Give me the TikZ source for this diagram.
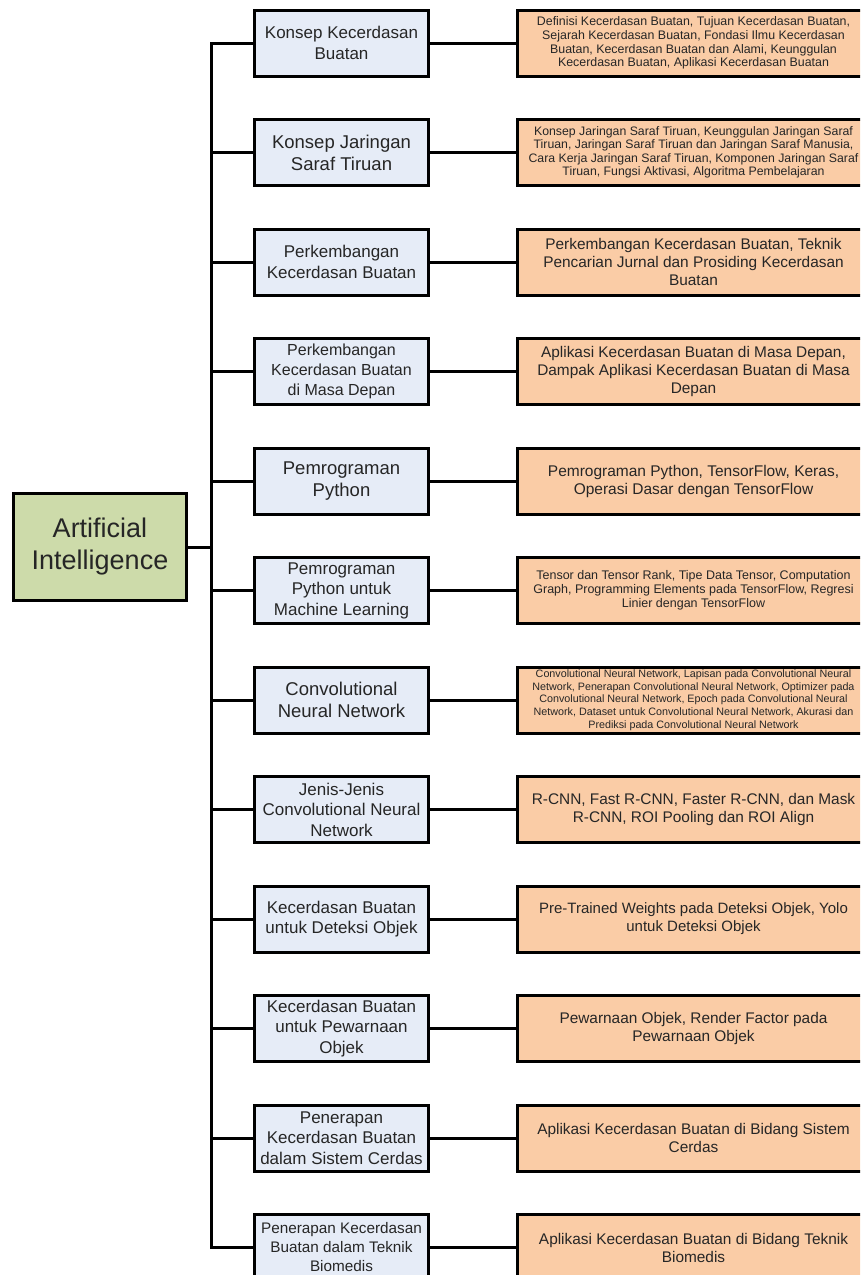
\documentclass[tikz,border=0pt]{standalone}
\usepackage{fontspec}
\setmainfont{Liberation Sans}
\definecolor{midfill}{RGB}{230,236,247}
\definecolor{rightfill}{RGB}{250,204,166}
\definecolor{rootfill}{RGB}{205,219,170}
\definecolor{txt}{RGB}{38,38,38}
\newcommand{\fs}[2]{\fontsize{#1}{#2}\selectfont}
\begin{document}
\begin{tikzpicture}[x=1pt,y=-1pt,
  basebox/.style={draw=black, line width=3pt, text=txt, align=center, inner sep=0pt},
  rootbox/.style={basebox, fill=rootfill, minimum width=173pt, minimum height=107pt},
  midbox/.style={basebox, fill=midfill, minimum width=174pt, minimum height=66pt},
  rightbox/.style={basebox, fill=rightfill, minimum width=352pt, minimum height=66pt},
  conn/.style={draw=black, line width=3pt, line join=miter}]
\clip (0,0) rectangle (860,1275);
\fill[white] (0,0) rectangle (860,1275);

\node[rootbox, font=\fs{27}{32}] (root) at (100,547) {Artificial\\Intelligence};

\node[midbox, font=\fs{17}{20.5}] (m1) at (341.5,43) {Konsep Kecerdasan\\Buatan};
\node[midbox, font=\fs{18.5}{22}] (m2) at (341.5,152.5) {Konsep Jaringan\\Saraf Tiruan};
\node[midbox, font=\fs{17}{20.5}] (m3) at (341.5,262) {Perkembangan\\Kecerdasan Buatan};
\node[midbox, font=\fs{16}{20}] (m4) at (341.5,371.5) {Perkembangan\\Kecerdasan Buatan\\di Masa Depan};
\node[midbox, font=\fs{18.5}{22}] (m5) at (341.5,481) {Pemrograman\\Python};
\node[midbox, font=\fs{17}{20.5}] (m6) at (341.5,590.5) {Pemrograman\\Python untuk\\Machine Learning};
\node[midbox, font=\fs{18.5}{22}] (m7) at (341.5,700) {Convolutional\\Neural Network};
\node[midbox, font=\fs{17}{20.5}] (m8) at (341.5,809.5) {Jenis-Jenis\\Convolutional Neural\\Network};
\node[midbox, font=\fs{17}{20.5}] (m9) at (341.5,919) {Kecerdasan Buatan\\untuk Deteksi Objek};
\node[midbox, font=\fs{17}{20.5}] (m10) at (341.5,1028.5) {Kecerdasan Buatan\\untuk Pewarnaan\\Objek};
\node[midbox, font=\fs{17}{20.5}] (m11) at (341.5,1138) {Penerapan\\Kecerdasan Buatan\\dalam Sistem Cerdas};
\node[midbox, font=\fs{15.3}{19}] (m12) at (341.5,1247.5) {Penerapan Kecerdasan\\Buatan dalam Teknik\\Biomedis};

\node[rightbox, font=\fs{12.4}{13.7}] (r1) at (693.5,43) {Definisi Kecerdasan Buatan, Tujuan Kecerdasan Buatan,\\Sejarah Kecerdasan Buatan, Fondasi Ilmu Kecerdasan\\Buatan, Kecerdasan Buatan dan Alami, Keunggulan\\Kecerdasan Buatan, Aplikasi Kecerdasan Buatan};
\node[rightbox, font=\fs{12.3}{13.4}] (r2) at (693.5,152.5) {Konsep Jaringan Saraf Tiruan, Keunggulan Jaringan Saraf\\Tiruan, Jaringan Saraf Tiruan dan Jaringan Saraf Manusia,\\Cara Kerja Jaringan Saraf Tiruan, Komponen Jaringan Saraf\\Tiruan, Fungsi Aktivasi, Algoritma Pembelajaran};
\node[rightbox, font=\fs{15.4}{18}] (r3) at (693.5,262) {Perkembangan Kecerdasan Buatan, Teknik\\Pencarian Jurnal dan Prosiding Kecerdasan\\Buatan};
\node[rightbox, font=\fs{15.4}{18}] (r4) at (693.5,371.5) {Aplikasi Kecerdasan Buatan di Masa Depan,\\Dampak Aplikasi Kecerdasan Buatan di Masa\\Depan};
\node[rightbox, font=\fs{15.5}{18}] (r5) at (693.5,481) {Pemrograman Python, TensorFlow, Keras,\\Operasi Dasar dengan TensorFlow};
\node[rightbox, font=\fs{12.5}{14.2}] (r6) at (693.5,590.5) {Tensor dan Tensor Rank, Tipe Data Tensor, Computation\\Graph, Programming Elements pada TensorFlow, Regresi\\Linier dengan TensorFlow};
\node[rightbox, font=\fs{10.75}{12.75}] (r7) at (693.5,700) {Convolutional Neural Network, Lapisan pada Convolutional Neural\\Network, Penerapan Convolutional Neural Network, Optimizer pada\\Convolutional Neural Network, Epoch pada Convolutional Neural\\Network, Dataset untuk Convolutional Neural Network, Akurasi dan\\Prediksi pada Convolutional Neural Network};
\node[rightbox, font=\fs{15.4}{18}] (r8) at (693.5,809.5) {R-CNN, Fast R-CNN, Faster R-CNN, dan Mask\\R-CNN, ROI Pooling dan ROI Align};
\node[rightbox, font=\fs{15}{18}] (r9) at (693.5,919) {Pre-Trained Weights pada Deteksi Objek, Yolo\\untuk Deteksi Objek};
\node[rightbox, font=\fs{15.4}{18}] (r10) at (693.5,1028.5) {Pewarnaan Objek, Render Factor pada\\Pewarnaan Objek};
\node[rightbox, font=\fs{15.4}{18}] (r11) at (693.5,1138) {Aplikasi Kecerdasan Buatan di Bidang Sistem\\Cerdas};
\node[rightbox, font=\fs{15.4}{18}] (r12) at (693.5,1247.5) {Aplikasi Kecerdasan Buatan di Bidang Teknik\\Biomedis};

\coordinate (tt) at (211,0);
\draw[conn] (m1.west) -- (m1.west -| tt) -- (m12.west -| tt) -- (m12.west);
\draw[conn] (root.east) -- (root.east -| tt);
\foreach \i in {2,...,11} {
  \draw[conn] (m\i.west -| tt) -- (m\i.west);
}
\foreach \i in {1,...,12} {
  \draw[conn] (m\i.east) -- (r\i.west);
}
\end{tikzpicture}
\end{document}
